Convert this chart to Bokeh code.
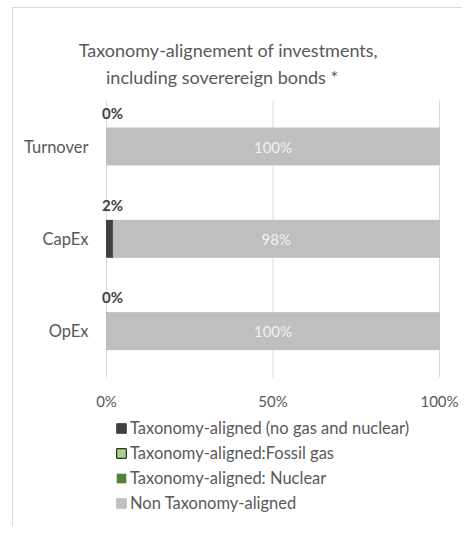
from bokeh.plotting import figure
from bokeh.models import (ColumnDataSource, Range1d, LabelSet, Legend, LegendItem,
                          InlineStyleSheet)
from bokeh.core.properties import value
from bokeh.embed import file_html
from bokeh.resources import INLINE

# ---------------- data ----------------
categories = ["Turnover", "CapEx", "OpEx"]
aligned_no_gas_nuclear = [0.0, 2.0, 0.0]
aligned_fossil_gas = [0.0, 0.0, 0.0]
aligned_nuclear = [0.0, 0.0, 0.0]
non_aligned = [100.0, 98.0, 100.0]
series_names = ["Taxonomy-aligned (no gas and nuclear)",
                "Taxonomy-aligned:Fossil gas",
                "Taxonomy-aligned: Nuclear",
                "Non Taxonomy-aligned"]
x_ticks = [0.0, 0.5, 1.0]
x_tick_labels = ["0%", "50%", "100%"]
title_lines = ["Taxonomy-alignement of investments,",
               "including soverereign  bonds *"]

# --------------- styling ---------------
FONT = "Lato"
TXT = "#595959"
colors = ["#404040", "#a9d18e", "#548235", "#bfbfbf"]
line_colors = ["#404040", "#000000", None, "#bfbfbf"]

W, H = 462, 526
PX_PER_UNIT_X = 333.0     # 0%..100% span in pixels
X0_PX = 106.0             # pixel position of 0%
BAND_PX = 92.33           # height of one category band
CAT0_PX = 146.0           # pixel (from top) of the first category centre

n = len(categories)
idx = list(range(n))
keys = ["a", "f", "n", "o"]
src = ColumnDataSource(data=dict(
    cat=categories,
    idx=idx,
    a=[v / 100 for v in aligned_no_gas_nuclear],
    f=[v / 100 for v in aligned_fossil_gas],
    n=[v / 100 for v in aligned_nuclear],
    o=[v / 100 for v in non_aligned],
    a_lbl=["%d%%" % round(v) for v in aligned_no_gas_nuclear],
    o_lbl=["%d%%" % round(v) for v in non_aligned],
    o_mid=[(a + f + nu + o / 2) / 100 for a, f, nu, o in
           zip(aligned_no_gas_nuclear, aligned_fossil_gas, aligned_nuclear, non_aligned)],
    zero=[0.0] * n,
))

x_range = Range1d(-X0_PX / PX_PER_UNIT_X, 1 + (W - X0_PX - PX_PER_UNIT_X) / PX_PER_UNIT_X)
y_range = Range1d((H - CAT0_PX) / BAND_PX, -CAT0_PX / BAND_PX)   # flipped: first category on top

p = figure(width=W, height=H, output_backend="svg", toolbar_location=None,
           x_range=x_range, y_range=y_range,
           x_axis_location=None, y_axis_location=None,
           min_border_left=0, min_border_right=0, min_border_top=0, min_border_bottom=0)
p.outline_line_color = None
p.grid.visible = False
p.background_fill_color = "white"
p.border_fill_color = "white"

# vertical grid lines spanning the category bands
top_edge = -0.5
bottom_edge = n - 0.5
grid_src = ColumnDataSource(data=dict(x=x_ticks, y0=[top_edge] * len(x_ticks),
                                      y1=[bottom_edge] * len(x_ticks), lbl=x_tick_labels))
p.segment(x0="x", x1="x", y0="y0", y1="y1", source=grid_src,
          line_color="#d9d9d9", line_width=1)

renderers = p.hbar_stack(keys, y="idx", height=0.4, source=src,
                         fill_color=colors, line_color=line_colors, line_width=1)

# x tick labels
p.add_layout(LabelSet(x="x", y="y1", text="lbl", source=grid_src, y_offset=-24,
                      text_align="center", text_baseline="middle",
                      text_font=value(FONT), text_font_size="15px", text_color=TXT))
# category labels
p.add_layout(LabelSet(x="zero", y="idx", text="cat", source=src, x_offset=-18,
                      text_align="right", text_baseline="middle",
                      text_font=value(FONT), text_font_size="16.5px", text_color=TXT))

# data labels
p.add_layout(LabelSet(x="o_mid", y="idx", text="o_lbl", source=src,
                      text_align="center", text_baseline="middle",
                      text_font=value(FONT), text_font_size="15px", text_color="#f2f2f2"))
p.add_layout(LabelSet(x="zero", y="idx", text="a_lbl", source=src,
                      text_align="center", text_baseline="middle",
                      x_offset=6, y_offset=34,
                      text_font=value(FONT), text_font_size="15px",
                      text_font_style="bold", text_color="#404040"))

# title (two centred lines above the plot area)
title_src = ColumnDataSource(data=dict(text=title_lines, x=[0.366, 0.354],
                                       y=[top_edge] * len(title_lines), dy=[50, 23]))
p.add_layout(LabelSet(x="x", y="y", text="text", y_offset="dy", source=title_src,
                      text_align="center", text_baseline="middle",
                      text_font=value(FONT), text_font_size="18px", text_color=TXT))

# legend
items = [LegendItem(label=nm, renderers=[r]) for nm, r in zip(series_names, renderers)]
legend = Legend(items=items, location=(115, 13), orientation="vertical",
                padding=0, margin=0, spacing=5, label_height=20,
                glyph_width=12, glyph_height=12, label_standoff=3,
                border_line_color=None, background_fill_alpha=0,
                label_text_font=FONT, label_text_font_size="16.5px",
                label_text_color=TXT)
p.add_layout(legend, "center")

# chart border (left / top edges of the chart area)
p.stylesheets = [InlineStyleSheet(css=(
    ":host::after{content:'';position:absolute;left:12px;top:7px;right:0;bottom:0;"
    "border-left:1px solid #d9d9d9;border-top:1px solid #d9d9d9;pointer-events:none;}"))]

open("out.html", "w").write(file_html(p, INLINE))
